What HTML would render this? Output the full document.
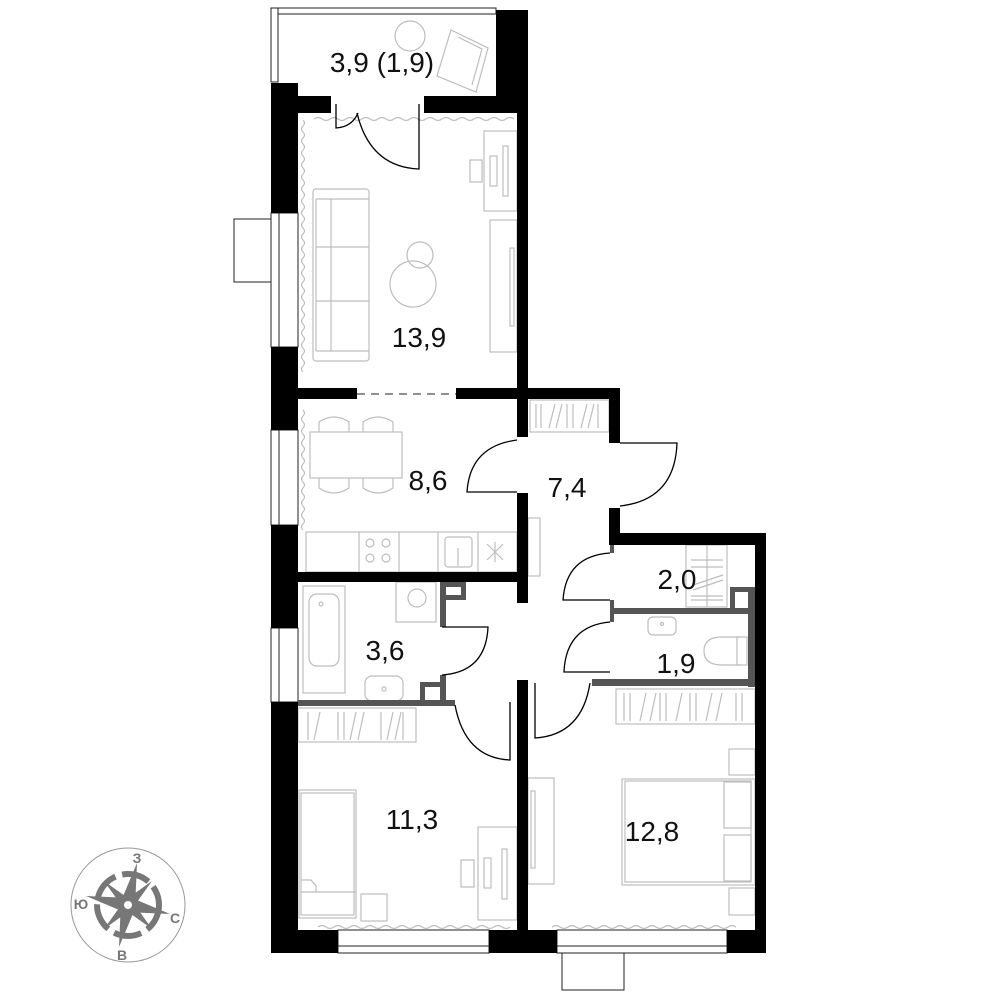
<!DOCTYPE html>
<html><head><meta charset="utf-8"><style>html,body{margin:0;padding:0;background:#fff}svg{display:block}</style></head>
<body>
<svg width="1000" height="1000" viewBox="0 0 1000 1000" xmlns="http://www.w3.org/2000/svg">
<g fill="none" stroke="#bdbdbd" stroke-width="1.2">
  <circle cx="410" cy="36" r="15"/>
  <path d="M451 30 L488 48 L476 92 L437 76 Z"/><path d="M458 37 L482 49 L472 85"/>
  <path d="M303 120 q3 3 0 6 q-3 3 0 6 q3 3 0 6 q-3 3 0 6 q3 3 0 6 q-3 3 0 6 q3 3 0 6 q-3 3 0 6 q3 3 0 6 q-3 3 0 6 q3 3 0 6 q-3 3 0 6 q3 3 0 6 q-3 3 0 6 q3 3 0 6 q-3 3 0 6 q3 3 0 6 q-3 3 0 6 q3 3 0 6 q-3 3 0 6 q3 3 0 6 q-3 3 0 6 q3 3 0 6 q-3 3 0 6 q3 3 0 6 q-3 3 0 6 q3 3 0 6 q-3 3 0 6 q3 3 0 6 q-3 3 0 6 q3 3 0 6 q-3 3 0 6 q3 3 0 6 q-3 3 0 6 q3 3 0 6 q-3 3 0 6 q3 3 0 6 q-3 3 0 6 q3 3 0 6 q-3 3 0 6 q3 3 0 6 q-3 3 0 6"/>
  <path d="M314 119 q4 -3 8 0 q4 3 8 0 q4 -3 8 0 q4 3 8 0 q4 -3 8 0 q4 3 8 0 q4 -3 8 0 q4 3 8 0 q4 -3 8 0 q4 3 8 0 q4 -3 8 0 q4 3 8 0 q4 -3 8 0 q4 3 8 0 q4 -3 8 0 q4 3 8 0 q4 -3 8 0 q4 3 8 0 q4 -3 8 0 q4 3 8 0 q4 -3 8 0 q4 3 8 0 q4 -3 8 0 q4 3 8 0 q4 -3 8 0"/>
  <rect x="313" y="189" width="56" height="172" rx="3"/><line x1="316" y1="199" x2="316" y2="351"/><line x1="331" y1="199" x2="331" y2="351"/>
  <line x1="316" y1="247" x2="369" y2="247"/><line x1="316" y1="301" x2="369" y2="301"/><line x1="316" y1="199" x2="369" y2="199"/><line x1="316" y1="351" x2="369" y2="351"/>
  <circle cx="413" cy="284" r="23"/><circle cx="420" cy="255" r="13"/>
  <rect x="484" y="131" width="33" height="80"/><rect x="490" y="156" width="7" height="30"/><path d="M503 146 h5 v50 h-5 Z"/><path d="M470 160 h12 v22 h-12 Z"/>
  <rect x="490" y="220" width="27" height="132"/><rect x="510" y="248" width="4" height="78"/>
  <path d="M303 410 q3 3 0 6 q-3 3 0 6 q3 3 0 6 q-3 3 0 6 q3 3 0 6 q-3 3 0 6 q3 3 0 6 q-3 3 0 6 q3 3 0 6 q-3 3 0 6 q3 3 0 6 q-3 3 0 6 q3 3 0 6 q-3 3 0 6 q3 3 0 6 q-3 3 0 6 q3 3 0 6 q-3 3 0 6 q3 3 0 6 q-3 3 0 6"/>
  <rect x="310" y="432" width="92" height="46"/>
  <path d="M319 432 v-10 q15 -10 30 0 v10"/><path d="M363 432 v-10 q15 -10 30 0 v10"/>
  <path d="M319 478 v10 q15 10 30 0 v-10"/><path d="M363 478 v10 q15 10 30 0 v-10"/>
  <rect x="306" y="532" width="211" height="40"/>
  <line x1="359" y1="532" x2="359" y2="572"/><line x1="399" y1="532" x2="399" y2="572"/><line x1="438" y1="532" x2="438" y2="572"/><line x1="478" y1="532" x2="478" y2="572"/>
  <circle cx="370" cy="543" r="4"/><circle cx="386" cy="543" r="4"/><circle cx="370" cy="558" r="4"/><circle cx="386" cy="558" r="4"/>
  <rect x="445" y="537" width="27" height="30" rx="3"/><line x1="458" y1="548" x2="458" y2="566"/>
  <path d="M487 544 l16 16 M503 544 l-16 16 M495 542 v20"/>
  <rect x="528" y="518" width="12" height="58"/>
  <rect x="530" y="400" width="79" height="32"/>
  <path d="M536 404 v24 M541 404 v24 M549 428 l6 -24 M556 428 l6 -24 M567 404 v24 M573 404 v24 M581 428 l6 -24 M588 428 l6 -24 M598 404 v24"/>
  <rect x="303" y="586" width="42" height="107"/><rect x="309" y="594" width="30" height="72" rx="8"/><circle cx="321" cy="604" r="2"/>
  <rect x="396" y="582" width="40" height="40"/><circle cx="417" cy="598" r="9"/>
  <rect x="365" y="676" width="38" height="25" rx="7"/><circle cx="384" cy="689" r="2"/>
  <rect x="686" y="545" width="41" height="62"/><line x1="707" y1="545" x2="707" y2="607"/>
  <path d="M691 560 h32 M691 567 h32 M691 600 h32 M691 596 h32 M693 585 l30 -10 M693 590 l30 -10"/>
  <rect x="648" y="617" width="28" height="18" rx="5"/><circle cx="662" cy="624" r="1.5"/>
  <path d="M740 637 h-18 q-18 0 -18 14 q0 14 18 14 h18"/><rect x="737" y="637" width="10" height="28"/>
  <rect x="298" y="708" width="118" height="34"/>
  <path d="M308 712 v28 M314 740 l6 -28 M338 712 v28 M344 712 v28 M350 740 l6 -28 M358 740 l6 -28 M381 712 v28 M387 740 l6 -28 M395 740 l6 -28 M403 712 v28"/>
  <rect x="299" y="790" width="57" height="128"/><rect x="301" y="793" width="53" height="122"/><path d="M301 880 h10 l5 6 v6 M301 892 h55"/>
  <rect x="361" y="894" width="26" height="27"/>
  <rect x="478" y="827" width="39" height="93"/><rect x="484" y="858" width="7" height="30"/><path d="M502 849 h5 v50 h-5 Z"/><path d="M461 860 h13 v27 h-13 Z"/>
  <path d="M318 927 q4 -3 8 0 q4 3 8 0 q4 -3 8 0 q4 3 8 0 q4 -3 8 0 q4 3 8 0 q4 -3 8 0 q4 3 8 0 q4 -3 8 0 q4 3 8 0 q4 -3 8 0 q4 3 8 0 q4 -3 8 0 q4 3 8 0 q4 -3 8 0 q4 3 8 0 q4 -3 8 0 q4 3 8 0 q4 -3 8 0 q4 3 8 0 q4 -3 8 0 q4 3 8 0 q4 -3 8 0 q4 3 8 0"/>
  <rect x="616" y="689" width="139" height="35"/>
  <path d="M624 693 v28 M630 693 v28 M640 721 l6 -28 M650 721 l6 -28 M660 693 v28 M666 693 v28 M676 721 l6 -28 M690 693 v28 M696 693 v28 M706 721 l6 -28 M716 721 l6 -28 M736 693 v28 M742 693 v28"/>
  <rect x="729" y="749" width="26" height="26"/>
  <rect x="528" y="778" width="26" height="106"/><rect x="531" y="791" width="4" height="77"/>
  <rect x="622" y="779" width="133" height="106"/><rect x="625" y="781" width="126" height="101"/>
  <rect x="724" y="782" width="27" height="46"/><rect x="724" y="835" width="27" height="46"/>
  <rect x="729" y="888" width="26" height="27"/>
  <path d="M552 927 q4 -3 8 0 q4 3 8 0 q4 -3 8 0 q4 3 8 0 q4 -3 8 0 q4 3 8 0 q4 -3 8 0 q4 3 8 0 q4 -3 8 0 q4 3 8 0 q4 -3 8 0 q4 3 8 0 q4 -3 8 0 q4 3 8 0 q4 -3 8 0 q4 3 8 0 q4 -3 8 0 q4 3 8 0 q4 -3 8 0 q4 3 8 0 q4 -3 8 0 q4 3 8 0 q4 -3 8 0"/>
</g>

<g fill="#fff" stroke="#222" stroke-width="1">
  <rect x="271" y="8" width="225" height="6"/>
  <rect x="271" y="8" width="7" height="74"/>
  <rect x="271" y="213" width="27" height="134"/><line x1="279" y1="213" x2="279" y2="347"/>
  <rect x="271" y="430" width="27" height="95"/><line x1="279" y1="430" x2="279" y2="525"/>
  <rect x="271" y="628" width="27" height="74"/><line x1="279" y1="628" x2="279" y2="702"/>
  <rect x="234" y="219" width="37" height="63"/>
  <rect x="338" y="930" width="151" height="23"/><line x1="338" y1="946" x2="489" y2="946"/>
  <rect x="557" y="930" width="170" height="23"/><line x1="557" y1="946" x2="727" y2="946"/>
  <rect x="562" y="953" width="62" height="37"/>
  <line x1="357" y1="394" x2="456" y2="394" stroke-dasharray="8,6"/>
</g>

<g fill="#000">
  <rect x="496" y="10" width="32" height="103"/>
  <rect x="517" y="113" width="11" height="324"/>
  <rect x="271" y="83" width="27" height="130"/>
  <rect x="271" y="347" width="27" height="83"/>
  <rect x="271" y="525" width="27" height="103"/>
  <rect x="271" y="702" width="27" height="251"/>
  <rect x="298" y="96" width="33" height="17"/>
  <rect x="424" y="96" width="72" height="17"/>
  <rect x="298" y="388" width="59" height="11"/>
  <rect x="456" y="388" width="164" height="11"/>
  <rect x="609" y="388" width="11" height="55"/>
  <rect x="517" y="493" width="11" height="110"/>
  <rect x="298" y="572" width="219" height="10"/>
  <rect x="609" y="508" width="11" height="37"/>
  <rect x="609" y="533" width="157" height="12"/>
  <rect x="755" y="533" width="11" height="420"/>
  <rect x="517" y="680" width="11" height="273"/>
  <rect x="271" y="930" width="67" height="23"/>
  <rect x="489" y="930" width="68" height="23"/>
  <rect x="727" y="930" width="39" height="23"/>
</g>
<g fill="#555">
  <rect x="440" y="582" width="6" height="45"/><rect x="440" y="582" width="26" height="5"/><rect x="461" y="582" width="5" height="18"/><rect x="440" y="595" width="26" height="5"/>
  <rect x="440" y="675" width="6" height="27"/><rect x="420" y="682" width="26" height="5"/><rect x="420" y="682" width="5" height="20"/>
  <rect x="298" y="700" width="157" height="6"/>
  <rect x="610" y="545" width="4" height="8"/>
  <rect x="610" y="600" width="4" height="22"/>
  <rect x="614" y="608" width="134" height="6"/>
  <rect x="730" y="587" width="25" height="5"/><rect x="730" y="587" width="5" height="22"/>
  <rect x="748" y="587" width="7" height="100"/>
  <rect x="592" y="679" width="163" height="7"/>
</g>

<g fill="none" stroke="#000" stroke-width="1.3">
  <path d="M336 104 V128 Q352 127 358 113"/>
  <path d="M419 104 V169 Q370 167 357 113"/>
  <path d="M517 492 H467 Q470 446 517 440"/>
  <path d="M620 443 H677 Q675 500 620 506"/>
  <path d="M610 600 H563 Q566 556 610 553"/>
  <path d="M610 672 H564 Q566 626 610 622"/>
  <path d="M442 627 H488 Q486 672 442 675"/>
  <path d="M510 702 V760 Q465 758 455 705"/>
  <path d="M535 683 V738 Q582 735 590 683"/>
</g>

<g font-family="Liberation Sans, sans-serif" font-size="28" fill="#111" text-anchor="middle">
  <text x="382" y="72">3,9 (1,9)</text>
  <text x="419" y="347">13,9</text>
  <text x="428" y="490">8,6</text>
  <text x="567" y="497">7,4</text>
  <text x="677" y="589">2,0</text>
  <text x="676" y="673">1,9</text>
  <text x="385" y="660">3,6</text>
  <text x="412" y="829">11,3</text>
  <text x="652" y="841">12,8</text>
</g>

<g transform="translate(128,905)">
  <circle r="57" fill="none" stroke="#999" stroke-width="1"/>
  <circle r="31" fill="none" stroke="#777" stroke-width="6" stroke-dasharray="28,7"/>
  <g fill="#777">
    <path d="M9 -42 L-7 -4 L7 4 Z"/><path d="M-42 -9 L-4 7 L4 -7 Z"/>
    <path d="M-9 42 L7 4 L-7 -4 Z"/><path d="M42 9 L4 -7 L-4 7 Z"/>
    <path d="M-24 -24 L-4 4 L4 -4 Z"/><path d="M24 -24 L-4 -4 L4 4 Z"/>
    <path d="M-24 24 L4 4 L-4 -4 Z"/><path d="M24 24 L4 -4 L-4 4 Z"/>
    <circle r="10"/>
  </g>
  <circle r="4" fill="#fff"/>
  <g font-family="Liberation Sans, sans-serif" font-size="14" font-weight="bold" fill="#777" text-anchor="middle">
    <text x="9" y="-42">З</text><text x="-47" y="4">Ю</text><text x="47" y="18">С</text><text x="-6" y="55">В</text>
  </g>
</g>
</svg>
</body></html>
